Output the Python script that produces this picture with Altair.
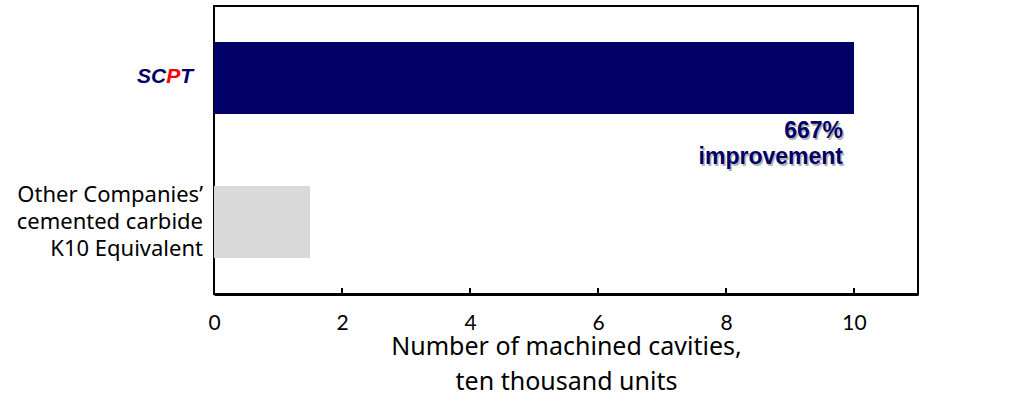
import altair as alt
import pandas as pd

# ---- data ----
categories = ["SCPT", "Other"]
values = [10, 1.5]
bar_colors = ["#000066", "#d9d9d9"]
other_label = "Other Companies’\ncemented carbide\nK10 Equivalent"
scpt_parts = ["SC", "P", "T"]
scpt_part_colors = ["#000066", "#ff0000", "#000066"]
scpt_part_x = [-77, -47.8, -33.8]
tick_values = [0, 2, 4, 6, 8, 10]
annotation_text = "667%\nimprovement"
x_title = ["Number of machined cavities,", "ten thousand units"]

FONT = "Noto Sans"
TICK_FONT = "Lato"
NAVY = "#000066"

bars_df = pd.DataFrame({"cat": categories, "val": values, "color": bar_colors})
ticks_df = pd.DataFrame({"t": tick_values})
other_df = pd.DataFrame({"cat": ["Other"], "label": [other_label]})
ann_df = pd.DataFrame({"cat": ["SCPT"], "val": [values[0]], "label": [annotation_text]})

yscale = alt.Scale(domain=categories, paddingInner=0.5, paddingOuter=0.25)
xscale = alt.Scale(domain=[0, 11], nice=False, zero=True)

bars = alt.Chart(bars_df).mark_bar().encode(
    x=alt.X("val:Q", scale=xscale,
            axis=alt.Axis(values=tick_values, format="d", ticks=False, grid=False,
                          domainWidth=3, domainColor="black",
                          labelFontSize=21, labelFont=TICK_FONT, labelColor="black",
                          labelPadding=18, labelFlush=False,
                          title=x_title, titleFontSize=25, titleFont=FONT,
                          titleFontWeight="normal", titleColor="black",
                          titlePadding=1, titleLineHeight=35)),
    y=alt.Y("cat:N", scale=yscale,
            axis=alt.Axis(labels=False, ticks=False, title=None,
                          domainWidth=3, domainColor="black", grid=False)),
    color=alt.Color("color:N", scale=None),
)

inner_ticks = alt.Chart(ticks_df).mark_rule(color="black", strokeWidth=2).encode(
    x=alt.X("t:Q", scale=xscale),
    y=alt.value(282),
    y2=alt.value(288),
)

other_text = alt.Chart(other_df).mark_text(
    align="right", baseline="middle", lineBreak="\n", lineHeight=27,
    fontSize=22, font=FONT, color="black", dy=-27
).encode(
    y=alt.Y("cat:N", scale=yscale, axis=None),
    x=alt.value(-11),
    text="label:N",
)

scpt_layers = []
for part, col, px in zip(scpt_parts, scpt_part_colors, scpt_part_x):
    scpt_layers.append(
        alt.Chart(pd.DataFrame({"cat": ["SCPT"], "label": [part]})).mark_text(
            align="left", baseline="middle", fontSize=21, font="Liberation Sans",
            fontWeight="bold", fontStyle="italic", color=col, dy=-1
        ).encode(
            y=alt.Y("cat:N", scale=yscale, axis=None),
            x=alt.value(px),
            text="label:N",
        )
    )

ann_shadow = alt.Chart(ann_df).mark_text(
    align="right", baseline="middle", lineBreak="\n", lineHeight=26,
    fontSize=23, font="Liberation Sans", fontWeight="bold",
    color="#b4b4b4", dx=-9.5, dy=54.5
).encode(
    y=alt.Y("cat:N", scale=yscale, axis=None),
    x=alt.X("val:Q", scale=xscale),
    text="label:N",
)
ann_text = alt.Chart(ann_df).mark_text(
    align="right", baseline="middle", lineBreak="\n", lineHeight=26,
    fontSize=23, font="Liberation Sans", fontWeight="bold",
    color=NAVY, dx=-11, dy=53
).encode(
    y=alt.Y("cat:N", scale=yscale, axis=None),
    x=alt.X("val:Q", scale=xscale),
    text="label:N",
)

chart = alt.layer(
    bars, inner_ticks, other_text, *scpt_layers, ann_shadow, ann_text
).properties(
    width=704, height=288,
    padding={"left": 214, "top": 6, "right": 92, "bottom": 103},
    autosize=alt.AutoSizeParams(type="none"),
).configure_view(
    stroke="black", strokeWidth=2
)

chart.save("out.html", embed_options={"renderer": "svg", "actions": False})
